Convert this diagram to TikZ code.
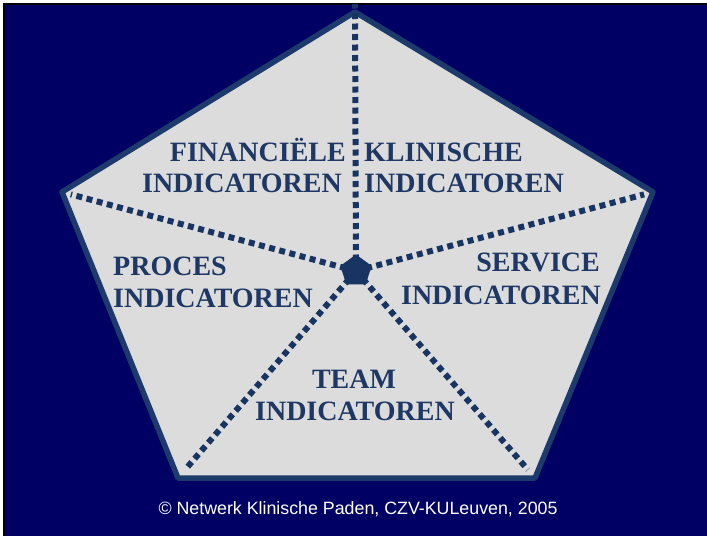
\documentclass[tikz,border=0pt]{standalone}
\usepackage{fontspec}
\usetikzlibrary{calc,shapes.geometric}
\setmainfont{Liberation Serif}
\newfontfamily\capfont{Liberation Sans}
\definecolor{bgnavy}{RGB}{0,0,100}
\definecolor{edgeblue}{RGB}{28,58,108}
\definecolor{dotblue}{RGB}{24,52,98}
\definecolor{txtblue}{RGB}{30,55,100}
\definecolor{penfill}{RGB}{220,220,220}
\tikzset{
  ray/.style={draw=dotblue, line width=6pt, dash pattern=on 6pt off 4.5pt},
  lbl/.style={font=\fontsize{28}{32}\selectfont\bfseries, text=txtblue, inner sep=0pt}
}
\begin{document}
\begin{tikzpicture}[x=1pt,y=-1pt]
\useasboundingbox (0,0) rectangle (707,536);
\fill[white] (0,0) rectangle (707,536);
\fill[bgnavy] (4,4) rectangle (707,536);
\draw[black, line width=1.2pt] (4,536) -- (4,4) -- (707,4);
% pentagon vertices
\coordinate (T) at (355,12);
\coordinate (L) at (62,192);
\coordinate (R) at (653,192);
\coordinate (BL) at (178,478);
\coordinate (BR) at (535,478);
\coordinate (C) at (356,271);
\filldraw[fill=penfill, draw=edgeblue, line width=5.5pt, line join=round] (T) -- (R) -- (BR) -- (BL) -- (L) -- cycle;
% rays
\draw[ray] (C) -- ([yshift=8pt]T);
\draw[ray] (C) -- ($(L)!0.03!(C)$);
\draw[ray] (C) -- ($(R)!0.03!(C)$);
\draw[ray] (C) -- ($(BL)!0.04!(C)$);
\draw[ray] (C) -- ($(BR)!0.04!(C)$);
% centre pentagon
\node (cp) [regular polygon, regular polygon sides=5, minimum size=33pt, fill=dotblue, inner sep=0pt] at (C) {};
% labels
\node[lbl, anchor=base east] (fin1) at (346,161) {FINANCIËLE};
\node[lbl, anchor=base east] (fin2) at (342,192) {INDICATOREN};
\node[lbl, anchor=base west] (kli1) at (364,161) {KLINISCHE};
\node[lbl, anchor=base west] (kli2) at (364,192) {INDICATOREN};
\node[lbl, anchor=base west] (pro1) at (113,275) {PROCES};
\node[lbl, anchor=base west] (pro2) at (113,307) {INDICATOREN};
\node[lbl, anchor=base east] (ser1) at (600,271) {SERVICE};
\node[lbl, anchor=base east] (ser2) at (601,304) {INDICATOREN};
\node[lbl, anchor=base] (team1) at (354,388) {TEAM};
\node[lbl, anchor=base] (team2) at (355,420) {INDICATOREN};
\node[font=\capfont\fontsize{17.8}{20}\selectfont, text=white, inner sep=0pt] (copy) at (358,509) {© Netwerk Klinische Paden, CZV-KULeuven, 2005};
\end{tikzpicture}
\end{document}
